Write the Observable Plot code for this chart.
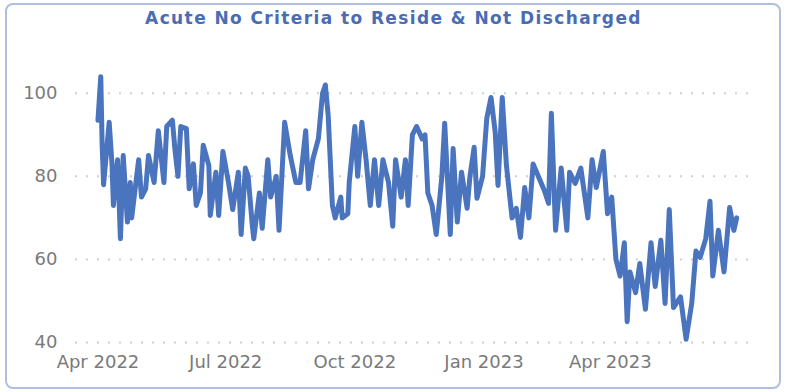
<!DOCTYPE html>
<html>
<head>
<meta charset="utf-8">
<script src="https://cdn.jsdelivr.net/npm/d3@7"></script>
<script src="https://cdn.jsdelivr.net/npm/@observablehq/plot@0.6"></script>
<style>
  html, body { margin: 0; padding: 0; background: #fff; }
  #frame {
    position: relative; width: 787px; height: 392px; box-sizing: border-box;
    overflow: hidden;
  }
  #border {
    position: absolute; left: 5px; top: 3px; width: 776px; height: 386px;
    box-sizing: border-box; border: 2px solid #aebfe0; border-radius: 8px;
    pointer-events: none;
  }
  #title {
    height: 38px; line-height: 36px; text-align: center;
    font-family: "DejaVu Sans", sans-serif;
    font-weight: bold; font-size: 17px; letter-spacing: 1.4px; color: #4a6cb3;
  }
  #chart svg { display: block; }
</style>
</head>
<body>
<div id="frame">
  <div id="title">Acute No Criteria to Reside &amp; Not Discharged</div>
  <div id="chart"></div>
  <div id="border"></div>
</div>
<script>
const dates = [
  "2022-04-01","2022-04-03","2022-04-04","2022-04-05","2022-04-09","2022-04-11","2022-04-12","2022-04-15",
  "2022-04-17","2022-04-19","2022-04-22","2022-04-24","2022-04-25","2022-04-30","2022-05-02","2022-05-05",
  "2022-05-07","2022-05-11","2022-05-14","2022-05-18","2022-05-20","2022-05-24","2022-05-26","2022-05-28",
  "2022-05-30","2022-06-03","2022-06-05","2022-06-08","2022-06-10","2022-06-13","2022-06-15","2022-06-19",
  "2022-06-20","2022-06-24","2022-06-26","2022-06-29","2022-07-03","2022-07-06","2022-07-10","2022-07-12",
  "2022-07-15","2022-07-17","2022-07-20","2022-07-21","2022-07-25","2022-07-27","2022-07-31","2022-08-02",
  "2022-08-06","2022-08-08","2022-08-12","2022-08-16","2022-08-20","2022-08-23","2022-08-27","2022-08-29",
  "2022-09-01","2022-09-05","2022-09-08","2022-09-10","2022-09-12","2022-09-15","2022-09-17","2022-09-21",
  "2022-09-22","2022-09-26","2022-09-27","2022-10-01","2022-10-03","2022-10-06","2022-10-09","2022-10-12",
  "2022-10-15","2022-10-18","2022-10-21","2022-10-25","2022-10-28","2022-10-30","2022-11-03","2022-11-06",
  "2022-11-08","2022-11-11","2022-11-14","2022-11-18","2022-11-20","2022-11-22","2022-11-25","2022-11-28",
  "2022-12-02","2022-12-04","2022-12-08","2022-12-10","2022-12-13","2022-12-16","2022-12-20","2022-12-22",
  "2022-12-25","2022-12-27","2022-12-31","2023-01-03","2023-01-06","2023-01-09","2023-01-11","2023-01-14",
  "2023-01-17","2023-01-21","2023-01-24","2023-01-27","2023-01-30","2023-02-02","2023-02-05","2023-02-09",
  "2023-02-13","2023-02-16","2023-02-18","2023-02-21","2023-02-25","2023-03-01","2023-03-03","2023-03-07",
  "2023-03-11","2023-03-16","2023-03-19","2023-03-22","2023-03-27","2023-03-30","2023-04-02","2023-04-05",
  "2023-04-08","2023-04-11","2023-04-13","2023-04-15","2023-04-19","2023-04-22","2023-04-26","2023-04-30",
  "2023-05-03","2023-05-07","2023-05-10","2023-05-13","2023-05-16","2023-05-21","2023-05-25","2023-05-29",
  "2023-06-01","2023-06-04","2023-06-08","2023-06-11","2023-06-13","2023-06-17","2023-06-21","2023-06-25",
  "2023-06-28","2023-06-30"
];
const values = [
  93.5,104,87.5,78,93,83,73,84,
  65,85,69,78.5,70,84,75,77,
  85,78.5,91,78.5,92,93.5,86,80,
  92,91.5,77,83,73,76,87.5,82.6,
  70.6,81,70.6,86,78.5,72,81,66,
  82,80,68,65,76,67.5,84,75,
  80,67,93,85,78.5,78.5,91,77,
  84,89,100,102,94.7,73,70,75,
  70,71,78.5,92,80,93,84,73,
  84,73,84,78.5,68,84,75,84,
  73,90,92,89,90,76,73,66,
  80,92.8,66,86.7,69,81,72.3,80,
  87,74.7,80,94,99,90.6,77.8,99,
  82.6,70,72.3,65.3,77.3,70,83,79.8,
  76.6,73.5,95.2,67,82,67,81,78.3,
  82,70,84,77.3,86,71,75,60,
  56,64,45,57,52,59,48,64,
  53.5,64.6,49.4,72,48.4,51,40.8,49.4,
  62,60.5,65,74,56,67,57,72.5,
  67,70
];
const yTicks = [40, 60, 80, 100];
const xTickDates = ["2022-04-01","2022-07-01","2022-10-01","2023-01-01","2023-04-01"];
const xDomain = ["2022-03-16","2023-07-12"];

const parse = d3.utcParse("%Y-%m-%d");
const data = dates.map((d, i) => ({date: parse(d), value: values[i]}));
const fmt = d3.utcFormat("%b %Y");

const chart = Plot.plot({
  width: 787,
  height: 354,
  marginLeft: 75,
  marginRight: 34,
  marginTop: 34,
  marginBottom: 50,
  style: {fontFamily: "DejaVu Sans, sans-serif", fontSize: "18px", color: "#7a7a7a", background: "transparent"},
  x: {type: "utc", domain: xDomain.map(parse)},
  y: {domain: [40, 105]},
  marks: [
    Plot.ruleY(yTicks, {stroke: "#cfcfcf", strokeWidth: 2, strokeDasharray: "2,9"}),
    Plot.axisY(yTicks, {tickSize: 0, tickPadding: 18, label: null, fill: "#7a7a7a"}),
    Plot.axisX(xTickDates.map(parse), {tickSize: 0, tickPadding: 13, label: null, tickFormat: fmt, fill: "#7a7a7a"}),
    Plot.line(data, {x: "date", y: "value", stroke: "#4a74bd", strokeWidth: 5, strokeLinejoin: "round", strokeLinecap: "round"})
  ]
});
document.getElementById("chart").appendChild(chart);
</script>
</body>
</html>
